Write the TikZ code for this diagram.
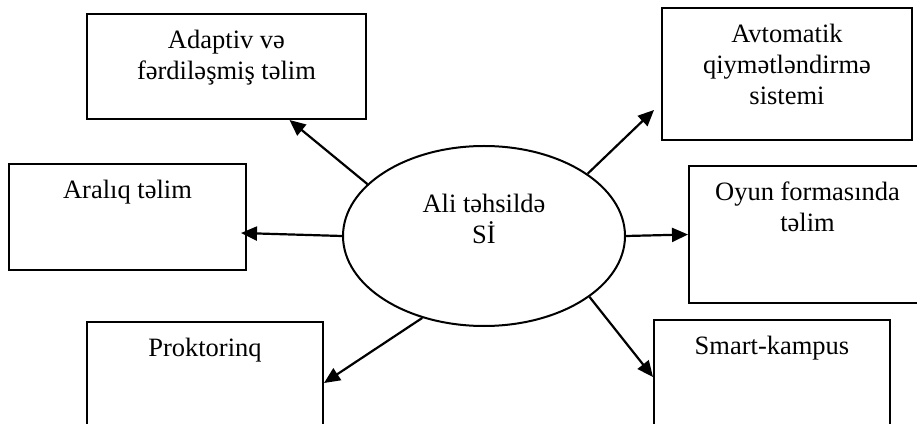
\documentclass[tikz,border=0pt]{standalone}
\usepackage{fontspec}
\setmainfont{Liberation Serif}
\usetikzlibrary{shapes,arrows.meta,positioning}

\begin{document}
\begin{tikzpicture}[x=1pt,y=1pt,
  box/.style={draw,rectangle,line width=2pt,inner sep=0pt},
  lbl/.style={align=center,inner sep=0pt,font=\fontsize{26.5}{31}\selectfont},
  arr/.style={line width=2.2pt,-{Triangle[length=16pt,width=14pt]}}]

\useasboundingbox (0,0) rectangle (917,423);
\fill[white] (0,0) rectangle (917,423);
\clip (0,0) rectangle (917,423);

% centre
\node[ellipse,draw,line width=2pt,minimum width=282pt,minimum height=180pt] (hub) at (484,187) {};
\node[lbl,below=49pt of hub.north] (hubtxt) {Ali təhsildə\\Sİ};

% boxes round it
\node[box,minimum width=279pt,minimum height=105pt] (adaptiv) at (226.5,356.5) {};
\node[lbl,below=17pt of adaptiv.north] (adaptivtxt) {Adaptiv və\\fərdiləşmiş təlim};

\node[box,minimum width=250pt,minimum height=132pt] (avto) at (787,349) {};
\node[lbl,below=17pt of avto.north] (avtotxt) {Avtomatik\\qiymətləndirmə\\sistemi};

\node[box,minimum width=237pt,minimum height=106pt] (aralik) at (127.5,206) {};
\node[lbl,below=17pt of aralik.north] (araliktxt) {Aralıq təlim};

\node[box,minimum width=237pt,minimum height=137pt] (oyun) at (807.5,188.5) {};
\node[lbl,below=17pt of oyun.north] (oyuntxt) {Oyun formasında\\təlim};

\node[box,minimum width=236pt,minimum height=122pt] (prokt) at (205,40) {};
\node[lbl,below=17pt of prokt.north] (prokttxt) {Proktorinq};

\node[box,minimum width=236pt,minimum height=114pt] (smart) at (772,46) {};
\node[lbl,below=17pt of smart.north] (smarttxt) {Smart-kampus};

% arrows
\draw[arr] (hub.156) -- ([xshift=63pt]adaptiv.south);
\draw[arr] (hub.west) -- ([xshift=-6pt,yshift=-16pt]aralik.east);
\draw[arr] (hub.233) -- (prokt.east);
\draw[arr] (hub.31) -- ([xshift=-7pt,yshift=-36pt]avto.west);
\draw[arr] (hub.east) -- (oyun.west);
\draw[arr] (hub.-30) -- (smart.west);

\end{tikzpicture}
\end{document}
